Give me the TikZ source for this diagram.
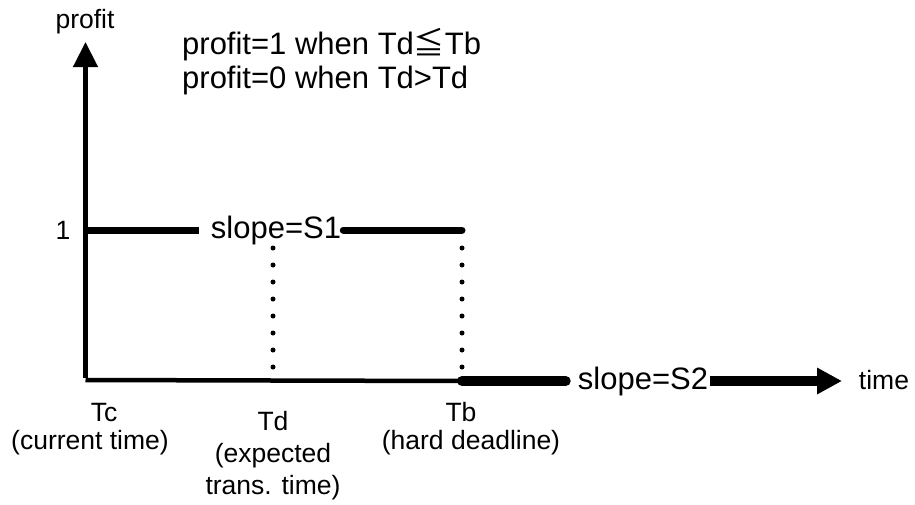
\documentclass[tikz,border=0pt]{standalone}
\usepackage{fontspec}
\setmainfont{Liberation Sans}
\newfontfamily\cjk{Noto Sans CJK SC}
\usetikzlibrary{arrows.meta}
\begin{document}
\begin{tikzpicture}[x=1pt,y=-1pt,
  axis/.style={line width=4.5pt},
  level/.style={line width=7pt},
  heavy/.style={line width=10pt},
  dots/.style={line width=5pt,line cap=round,dash pattern=on 0pt off 17pt},
  lbl/.style={font=\fontsize{26.5}{26}\selectfont,inner sep=0pt},
  slopelbl/.style={font=\fontsize{31}{34}\selectfont,inner xsep=2pt,inner ysep=0pt},
  note/.style={font=\fontsize{31}{35}\selectfont,inner sep=0pt,anchor=west},
  small/.style={font=\fontsize{26.5}{28}\selectfont,inner sep=0pt}]
\useasboundingbox (0,0) rectangle (915,504);

% reference points
\coordinate (O) at (85.5,380);
\coordinate (Ytop) at (85.5,42);
\coordinate (Y1) at (85.5,230);
\coordinate (Td1) at (273,248);
\coordinate (Td0) at (273,370);
\coordinate (Tb1) at (462,230);
\coordinate (Tbd) at (462,248);
\coordinate (Tb0) at (462,381);
\coordinate (Xend) at (842,381);

% labels
\node[small] (py) at (85,22) {profit};
\node[lbl] (one) at (63,230) {1};
\node[note] (n1) at (182,45) {profit=1 when Td{\cjk ≦}Tb};
\node[note] (n2) at (182,80) {profit=0 when Td>Td};
\node[slopelbl] (s1) at (276,230) {slope=S1};
\node[slopelbl] (s2) at (643,381) {slope=S2};
\node[lbl] (tm) at (884,380) {time};

% time instants on the axis
\node[lbl,anchor=base] (tc) at (104,421) {Tc};
\node[lbl,anchor=base] (tcx) at (90,449) {(current time)};
\node[lbl,align=center,anchor=north,font=\fontsize{26.5}{32}\selectfont] (td) at (273,411) {Td\\(expected\\trans. time)};
\node[lbl,anchor=base] (tb) at (461,421) {Tb};
\node[lbl,anchor=base] (tbx) at (471,449) {(hard deadline)};

% axes
\draw[axis] (O) -- (Tb0);
\draw[axis,-{Triangle[length=25pt,width=24pt]}] ([yshift=2.25pt]O) -- (Ytop);

% profit level before the deadline
\draw[level] (Y1) -- ([xshift=-10pt]s1.west);
\draw[level,line cap=round] (s1.east) -- (Tb1);

% deadlines
\draw[dots] (Td1) -- (Td0);
\draw[dots] (Tbd) -- (Td0 -| Tbd);

% after the deadline
\draw[heavy,line cap=round] (Tb0) -- ([xshift=-10pt]s2.west);
\draw[heavy,-{Triangle[length=25pt,width=25pt]}] (s2.east) -- (Xend);
\end{tikzpicture}
\end{document}
